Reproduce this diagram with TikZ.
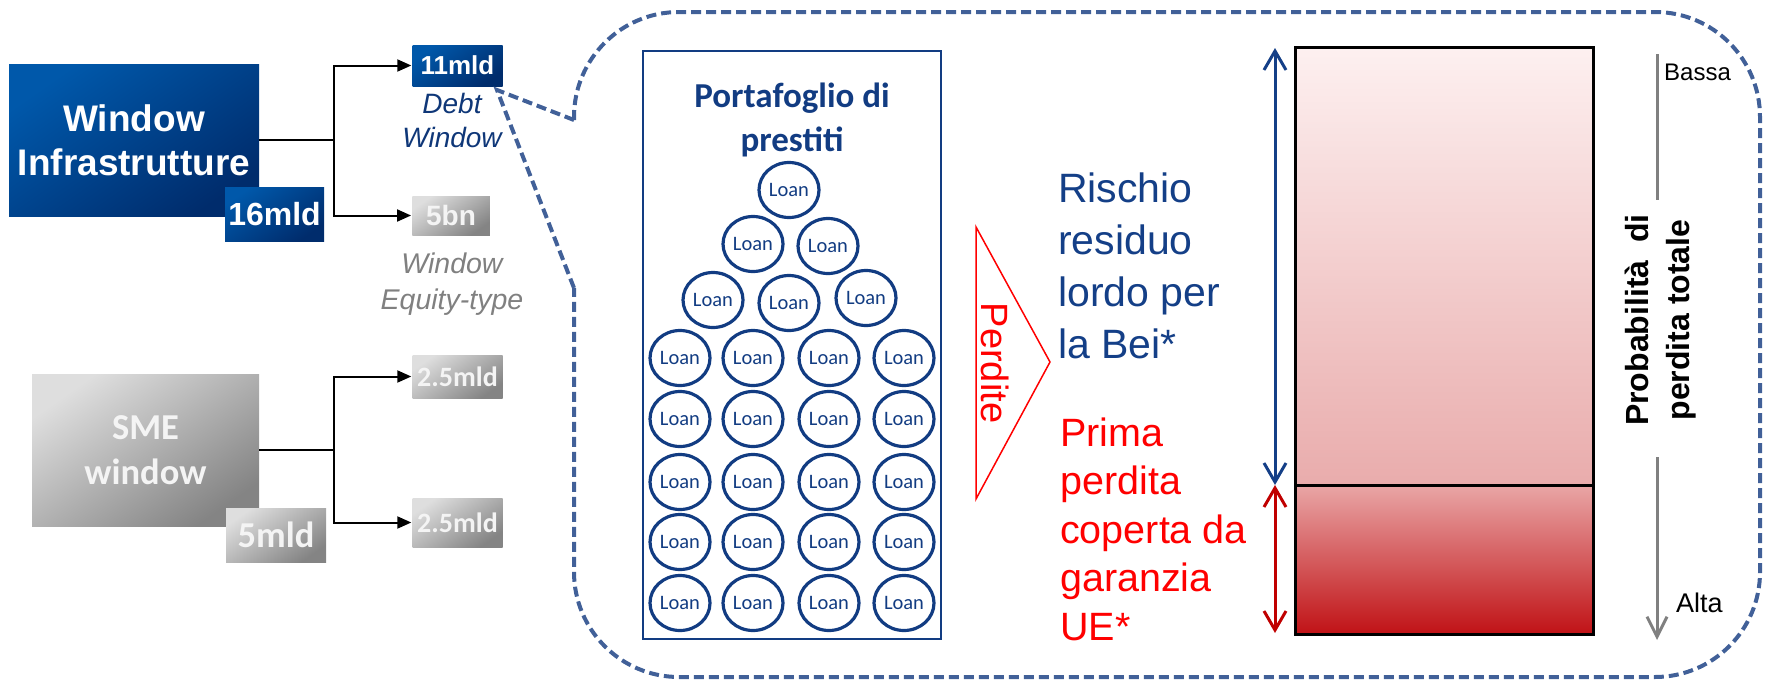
\documentclass[tikz,border=0pt]{standalone}
\usepackage{fontspec}
\setmainfont{Liberation Sans}
\newfontfamily\calibri{Carlito}
\usetikzlibrary{arrows.meta,shapes.geometric}
\definecolor{blueL}{RGB}{0,88,170}
\definecolor{blueD}{RGB}{0,44,108}
\definecolor{greyL}{RGB}{222,222,222}
\definecolor{greyD}{RGB}{132,132,132}
\definecolor{boxtext}{RGB}{244,244,244}
\definecolor{pblue}{RGB}{18,60,130}
\definecolor{tblue}{RGB}{20,63,135}
\definecolor{dblue}{RGB}{15,55,120}
\definecolor{callc}{RGB}{65,96,152}
\definecolor{gtext}{RGB}{128,128,128}
\definecolor{dred}{RGB}{192,0,0}
\definecolor{barA}{RGB}{253,240,240}
\definecolor{barB}{RGB}{233,172,172}
\definecolor{barC}{RGB}{233,166,166}
\definecolor{barD}{RGB}{214,98,98}
\definecolor{barE}{RGB}{192,18,22}
\newcommand\fsz[2]{\fontsize{#1}{#2}\selectfont}
\tikzset{vbarb/.tip={Straight Barb[length=19pt,width=22pt,line width=3pt]}}
\begin{document}
\begin{tikzpicture}[x=1pt,y=-1pt,
  box/.style={inner sep=0pt, align=center, text=white},
  bluebox/.style={box, top color=blueL, bottom color=blueD, shading angle=35},
  greybox/.style={box, top color=greyL, bottom color=greyD, shading angle=35, text=boxtext},
  conn/.style={line width=2pt, -{Triangle[length=14pt,width=12pt]}, shorten >=1pt},
  loan/.style={ellipse, draw=pblue, line width=3.2pt, minimum width=60pt, minimum height=55pt, inner sep=0pt,
    font=\calibri\fsz{20.5}{21}, text=pblue},
  callout/.style={draw=callc, line width=4pt, dash pattern=on 10pt off 5pt},
  vtext/.style={inner sep=0pt, align=left, anchor=west}]
\useasboundingbox (0,0) rectangle (1767,680);

% left boxes
\node[bluebox, minimum width=250pt, minimum height=152pt, font=\bfseries\fsz{37}{44}] (wi) at (134,140) {Window\\Infrastrutture};
\node[bluebox, minimum width=99pt, minimum height=54pt, font=\bfseries\fsz{32}{32}] (b16) at (274.5,214) {16mld};
\node[bluebox, minimum width=90pt, minimum height=41pt, font=\bfseries\fsz{26}{26}] (d11) at (457.5,65.5) {11mld};
\node[greybox, minimum width=77.5pt, minimum height=39pt, font=\bfseries\fsz{28}{28}] (e5) at (451,215.5) {5bn};
\node[inner sep=0pt, align=center, text=dblue, font=\itshape\fsz{28}{34}] (dw) at (452,120) {Debt\\Window};
\node[inner sep=0pt, align=center, text=gtext, font=\itshape\fsz{28.5}{36}] (ew) at (452,284) {Window\\Equity-type};

\node[greybox, minimum width=227pt, minimum height=152pt, font=\calibri\bfseries\fsz{36.5}{45}] (sme) at (145.5,450) {SME\\window};
\node[greybox, minimum width=100pt, minimum height=54pt, font=\calibri\bfseries\fsz{36.5}{36}] (m5) at (276,535) {5mld};
\node[greybox, minimum width=90pt, minimum height=43pt, font=\calibri\bfseries\fsz{28}{28}] (s1) at (457.5,376.5) {2.5mld};
\node[greybox, minimum width=90pt, minimum height=49pt, font=\calibri\bfseries\fsz{28}{28}] (s2) at (457.5,522.5) {2.5mld};

\draw[conn] (wi.east) -- ++(75,0) |- (d11.west);
\draw[conn] (wi.east) -- ++(75,0) |- (e5.west);
\draw[conn] (sme.east) -- ++(75,0) |- (s1.west);
\draw[conn] (sme.east) -- ++(75,0) |- (s2.west);

% callout
\coordinate (tip) at (497,90);
\draw[callout, rounded corners=105pt] (574,120) -- (574,12) -- (1760,12) -- (1760,677) -- (574,677) -- (574,288);
\draw[callout] (574,120) -- (tip) -- (574,288);

% portfolio
\node[draw=pblue, line width=2pt, minimum width=298pt, minimum height=588pt, inner sep=0pt] (port) at (792,345) {};
\node[inner sep=0pt, align=center, text=pblue, font=\calibri\bfseries\fsz{35}{44}] (ptitle) at (792,120) {Portafoglio di\\prestiti};
\node[loan] (l1) at (789,190) {Loan};
\node[loan] (l2) at (753,244) {Loan};
\node[loan] (l3) at (828,246) {Loan};
\node[loan] (l4) at (713,300) {Loan};
\node[loan] (l5) at (789,303) {Loan};
\node[loan] (l6) at (866,298) {Loan};
\foreach \y [count=\r] in {358,419,482,542,603}{
  \foreach \x [count=\c] in {680,753,829,904}{
    \node[loan] (g\r\c) at (\x,\y) {Loan};
  }
}

% Perdite triangle
\coordinate (pa) at (976,227);
\coordinate (pb) at (1050,362);
\coordinate (pc) at (976,499);
\draw[red, line width=1.5pt, line join=miter] (pa) -- (pb) -- (pc) -- cycle;
\node[inner sep=0pt, text=red, rotate=-90, font=\fsz{38}{38}] (perd) at (995,363) {Perdite};

% texts
\node[vtext, text=tblue, font=\fsz{41}{52}] (risk) at (1058,266) {Rischio\\residuo\\lordo per\\la Bei*};
\node[vtext, text=red, font=\fsz{39.5}{48.5}] (prima) at (1060,529) {Prima\\perdita\\coperta da\\garanzia\\UE*};

% bar
\node[draw=black, line width=3pt, top color=barA, bottom color=barB, minimum width=298pt, minimum height=438pt, inner sep=0pt] (barU) at (1444,266) {};
\node[draw=black, line width=3pt, top color=barC, middle color=barD, bottom color=barE, minimum width=298pt, minimum height=149pt, inner sep=0pt] (barL) at (1444,559.5) {};

\coordinate (at) at (1275,48);
\coordinate (am) at (1275,485);
\coordinate (ab) at (1275,633);
\draw[tblue, line width=3pt, {vbarb}-{vbarb}] (at) -- (am);
\draw[dred, line width=3pt, {vbarb}-{vbarb}] (am) -- (ab);

% probability scale
\coordinate (g1) at (1657,54);
\coordinate (g2) at (1657,200);
\coordinate (g3) at (1657,457);
\coordinate (g4) at (1657,640);
\draw[gtext, line width=3pt] (g1) -- (g2);
\draw[gtext, line width=3pt, -{Straight Barb[length=20pt,width=20pt,line width=3pt]}] (g3) -- (g4);
\node[vtext, font=\fsz{24}{24}] (bassa) at (1664,72) {Bassa};
\node[vtext, font=\fsz{27}{27}] (alta) at (1676,603) {Alta};
\node[inner sep=0pt, align=center, rotate=90, font=\bfseries\fsz{32}{41}] (prob) at (1661,320) {Probabilità~ di\\perdita totale};
\end{tikzpicture}
\end{document}
